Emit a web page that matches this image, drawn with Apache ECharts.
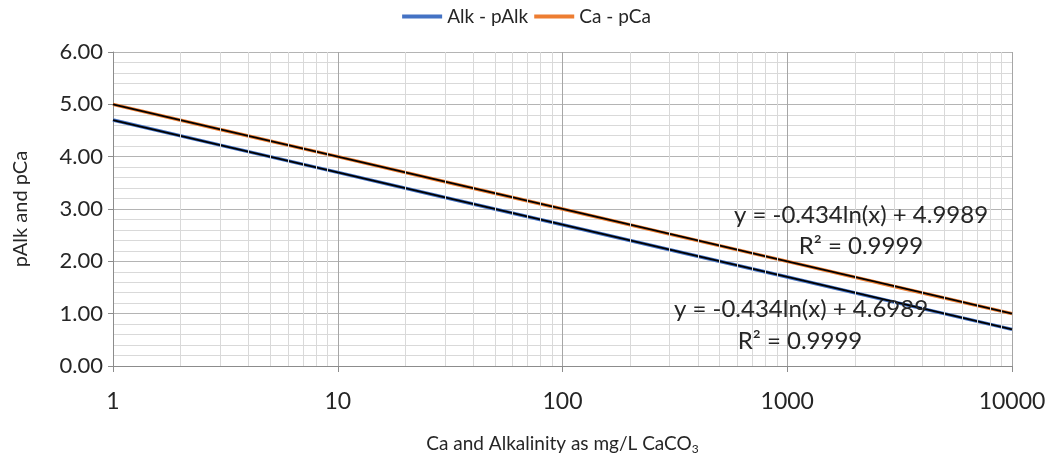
<!DOCTYPE html>
<html>
<head>
<meta charset="utf-8">
<script src="https://cdn.jsdelivr.net/npm/echarts@6/dist/echarts.min.js"></script>
<style>
  html, body { margin: 0; padding: 0; background: #fff; }
  #chart { width: 1053px; height: 461px; }
</style>
</head>
<body>
<div id="chart"></div>
<script>
// Concentration (mg/L as CaCO3) and the matching p-values
const concentration = [1, 3, 10, 30, 100, 300, 1000, 3000, 10000];
const pAlk = [4.70, 4.22, 3.70, 3.22, 2.70, 2.22, 1.70, 1.22, 0.70];
const pCa  = [5.00, 4.52, 4.00, 3.52, 3.00, 2.52, 2.00, 1.52, 1.00];

// Logarithmic trendline coefficients: y = slope * ln(x) + intercept
const alkTrend = { slope: -0.434, intercept: 4.6989, r2: 0.9999 };
const caTrend  = { slope: -0.434, intercept: 4.9989, r2: 0.9999 };

const decadeMinor = [2, 3, 4, 5, 6, 7, 8, 9];

const FONT = 'Lato';
const TEXT = '#262626';

const pairs = (xs, ys) => xs.map((x, i) => [x, ys[i]]);
const trendPoints = t => concentration.map(x => [x, t.slope * Math.log(x) + t.intercept]);

// minor vertical gridlines at 2..9 of each decade
const minorX = [];
for (let d = 1; d < 10000; d *= 10) decadeMinor.forEach(m => minorX.push({ xAxis: d * m }));

const chart = echarts.init(document.getElementById('chart'), null, { renderer: 'canvas' });

const eq = t => 'y = ' + t.slope.toFixed(3) + 'ln(x) + ' + t.intercept.toFixed(4);
const r2 = t => 'R² = ' + t.r2.toFixed(4);
const note = (text, x, y) => ({
  type: 'text', x: x, y: y, z: 10,
  style: { text: text, font: '24px ' + FONT, fill: TEXT, align: 'center', verticalAlign: 'middle' }
});

chart.setOption({
  animation: false,
  textStyle: { fontFamily: FONT, color: TEXT },
  legend: {
    top: 2,
    left: 'center',
    itemWidth: 40,
    itemHeight: 4,
    itemGap: 6,
    icon: 'rect',
    textStyle: { fontFamily: FONT, fontSize: 19, color: TEXT },
    data: ['Alk - pAlk', 'Ca - pCa']
  },
  grid: { left: 113, right: 41, top: 52, bottom: 95, containLabel: false },
  xAxis: {
    type: 'log',
    logBase: 10,
    min: 1,
    max: 10000,
    name: 'Ca and Alkalinity as mg/L CaCO{sub|3}',
    nameLocation: 'middle',
    nameGap: 67,
    nameTextStyle: {
      fontFamily: FONT, fontSize: 19, color: TEXT,
      rich: { sub: { fontFamily: FONT, fontSize: 12, verticalAlign: 'bottom', padding: [10, 0, 0, 0], color: TEXT } }
    },
    axisLine: { show: true, lineStyle: { color: '#8c8c8c', width: 1 } },
    axisTick: { show: true, length: 6, lineStyle: { color: '#8c8c8c' } },
    axisLabel: { fontFamily: FONT, fontSize: 23, color: TEXT, margin: 24,
      formatter: v => String(Math.round(v)) },
    splitLine: { show: true, lineStyle: { color: '#a6a6a6', width: 1 } }
  },
  yAxis: {
    type: 'value',
    min: 0,
    max: 6,
    interval: 1,
    name: 'pAlk and pCa',
    nameLocation: 'middle',
    nameGap: 82,
    nameTextStyle: { fontFamily: FONT, fontSize: 20, color: TEXT },
    axisLine: { show: true, lineStyle: { color: '#8c8c8c', width: 1 } },
    axisTick: { show: true, length: 5, lineStyle: { color: '#8c8c8c' } },
    axisLabel: { fontFamily: FONT, fontSize: 22, color: TEXT, margin: 10,
      formatter: v => v.toFixed(2) },
    splitLine: { show: true, lineStyle: { color: '#b4b4b4', width: 1 } },
    minorTick: { show: false, splitNumber: 5 },
    minorSplitLine: { show: true, lineStyle: { color: '#d9d9d9', width: 1 } }
  },
  graphic: [
    note(eq(caTrend), 861, 215),
    note(r2(caTrend), 861, 246),
    note(eq(alkTrend), 801, 309),
    note(r2(alkTrend), 800, 341)
  ],
  series: [
    {
      name: 'minor grid',
      type: 'line',
      data: [],
      silent: true,
      z: 0,
      markLine: {
        silent: true,
        symbol: 'none',
        label: { show: false },
        animation: false,
        lineStyle: { color: '#d9d9d9', width: 1, type: 'solid' },
        data: minorX
      }
    },
    {
      name: 'Alk - pAlk',
      type: 'line',
      data: pairs(concentration, pAlk),
      showSymbol: false,
      symbol: 'none',
      color: '#4472C4',
      lineStyle: { width: 3.5, color: '#4472C4' },
      z: 3
    },
    {
      name: 'Ca - pCa',
      type: 'line',
      data: pairs(concentration, pCa),
      showSymbol: false,
      symbol: 'none',
      color: '#ED7D31',
      lineStyle: { width: 3.5, color: '#ED7D31' },
      z: 3
    },
    {
      name: 'Alk trend',
      type: 'line',
      data: trendPoints(alkTrend),
      symbol: 'none',
      lineStyle: { width: 1.8, color: '#000' },
      z: 4
    },
    {
      name: 'Ca trend',
      type: 'line',
      data: trendPoints(caTrend),
      symbol: 'none',
      lineStyle: { width: 1.8, color: '#000' },
      z: 4
    }
  ]
});
</script>
</body>
</html>
